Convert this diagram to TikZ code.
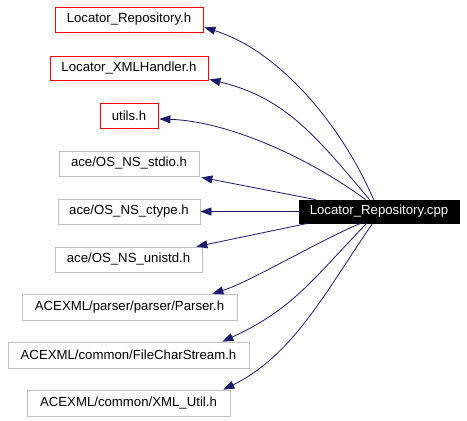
\documentclass[tikz,border=0pt]{standalone}
\usepackage{fontspec}
\setmainfont{Liberation Sans}
\usetikzlibrary{arrows.meta}
\definecolor{edgeblue}{HTML}{191970}
\definecolor{boxgrey}{HTML}{BFBFBF}
\definecolor{boxred}{HTML}{FF0000}
\tikzset{
  box/.style={rectangle, draw, line width=0.8pt, inner sep=0pt, font=\fontsize{13.2}{16}\selectfont, anchor=center},
  redbox/.style={box, draw=boxred},
  greybox/.style={box, draw=boxgrey},
  mainbox/.style={box, draw=black, fill=black, text=white},
  dep/.style={draw=edgeblue, line width=0.8pt, -{Triangle[length=11pt,width=8pt]}, fill=none},
}
\begin{document}
\begin{tikzpicture}[x=1pt,y=-1pt]
\useasboundingbox (0,0) rectangle (467,421);
\node[redbox, minimum width=148pt, minimum height=25pt] (n1) at (129,19.5) {Locator\_Repository.h};
\node[redbox, minimum width=158pt, minimum height=24pt] (n2) at (129,68) {Locator\_XMLHandler.h};
\node[redbox, minimum width=58pt, minimum height=25pt] (n3) at (129,115.5) {utils.h};
\node[greybox, minimum width=140pt, minimum height=25pt] (n4) at (129,163.5) {ace/OS\_NS\_stdio.h};
\node[greybox, minimum width=142pt, minimum height=25pt] (n5) at (129,211.5) {ace/OS\_NS\_ctype.h};
\node[greybox, minimum width=147pt, minimum height=25pt] (n6) at (128.5,259.5) {ace/OS\_NS\_unistd.h};
\node[greybox, minimum width=215pt, minimum height=26pt] (n7) at (129.5,307) {ACEXML/parser/parser/Parser.h};
\node[greybox, minimum width=241pt, minimum height=26pt] (n8) at (128.5,355) {ACEXML/common/FileCharStream.h};
\node[greybox, minimum width=203pt, minimum height=26pt] (n9) at (128.5,403) {ACEXML/common/XML\_Util.h};
\node[mainbox, minimum width=160pt, minimum height=23pt] (main) at (379,211.5) {Locator\_Repository.cpp};

\draw[dep] ([xshift=75pt]main.north west) .. controls (342,126) and (280,51) .. ([xshift=1pt,yshift=5pt]n1.south east);
\draw[dep] ([xshift=71pt]main.north west) .. controls (318,139) and (287,98) .. ([xshift=1pt,yshift=1pt]n2.south east);
\draw[dep] ([xshift=67pt]main.north west) .. controls (305,155) and (225,121) .. ([xshift=1pt,yshift=-3.5pt]n3.east);
\draw[dep] ([xshift=17pt]main.north west) -- ([xshift=2pt,yshift=-1pt]n4.south east);
\draw[dep] (main.west) -- (n5.east);
\draw[dep] ([xshift=9pt]main.south west) -- ([xshift=-6pt]n6.north east);
\draw[dep] ([xshift=62pt]main.south west) .. controls (320,240) and (250,282) .. ([xshift=-25pt]n7.north east);
\draw[dep] ([xshift=68pt]main.south west) .. controls (312,280) and (293,309) .. ([xshift=-27pt]n8.north east);
\draw[dep] ([xshift=74pt]main.south west) .. controls (327,289) and (294,355) .. ([xshift=-7pt]n9.north east);
\end{tikzpicture}
\end{document}
